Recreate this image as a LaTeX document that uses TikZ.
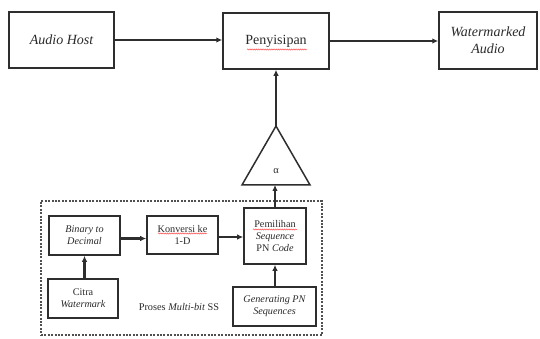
\documentclass[tikz,border=0pt]{standalone}
\usepackage{fontspec}
\setmainfont{Liberation Serif}
\usetikzlibrary{arrows.meta,shapes.geometric,decorations.pathmorphing}
\definecolor{ink}{HTML}{2E2E2E}
\definecolor{txt}{HTML}{2A2A2A}
\definecolor{dashink}{HTML}{505050}
\begin{document}
\begin{tikzpicture}[x=1pt,y=-1pt,
  bigbox/.style={draw=ink, line width=1.5pt, rectangle, inner sep=0pt, text=txt,
    font=\fontsize{14}{17}\selectfont, align=center},
  smallbox/.style={draw=ink, line width=1.6pt, rectangle, inner sep=0pt, text=txt,
    font=\fontsize{10.2}{11.8}\selectfont, align=center},
  conn/.style={draw=ink, line width=2.1pt, -{Latex[length=6pt,width=5.5pt]}},
  spell/.style={red!70, line width=0.5pt, decorate,
    decoration={snake, amplitude=0.6pt, segment length=2.2pt}}]
\useasboundingbox (0,0) rectangle (540,338);

% top row
\node[bigbox, minimum width=105pt, minimum height=56pt] (audio) at (61.5,40) {\itshape Audio Host};
\node[bigbox, minimum width=106pt, minimum height=56pt] (peny) at (276,41) {Penyisipan};
\node[bigbox, minimum width=98pt, minimum height=57pt] (wm) at (488,40.5) {\itshape Watermarked\\\itshape Audio};

% triangle
\node[draw=ink, line width=1.5pt, regular polygon, regular polygon sides=3,
  minimum size=78.5pt, inner sep=0pt, outer sep=0pt] (tri) at (276,165.3) {};
\node[text=txt, font=\fontsize{10.5}{12}\selectfont] (alpha) at (276,171) {α};

% dashed region
\node[draw=dashink, line width=1.5pt, dash pattern=on 2pt off 1.4pt, rectangle,
  minimum width=281pt, minimum height=134pt, inner sep=0pt] (proc) at (181.5,268) {};

% inner boxes
\node[smallbox, minimum width=71pt, minimum height=39pt] (bin) at (84.5,235.5) {\itshape Binary to\\\itshape Decimal};
\node[smallbox, minimum width=70pt, minimum height=39pt] (citra) at (83,298.5) {Citra\\\itshape Watermark};
\node[smallbox, minimum width=71pt, minimum height=38pt] (konv) at (182.5,235) {Konversi ke\\1-D};
\node[smallbox, minimum width=62pt, minimum height=56pt] (pemil) at (275,236) {Pemilihan\\\itshape Sequence\\PN \itshape Code};
\node[smallbox, minimum width=83pt, minimum height=39pt] (gen) at (274.5,306.5) {\itshape Generating PN\\\itshape Sequences};
\node[text=txt, font=\fontsize{10.3}{12}\selectfont] (proses) at (179,307) {Proses \textit{Multi-bit} SS};

% spell-check underlines
\draw[spell] (247,49.5) -- (307,49.5);
\draw[spell] (158,233.5) -- (207,233.5);
\draw[spell] (253,229.5) -- (297,229.5);

% connectors
\draw[conn] (audio.east) -- (peny.west |- audio.east);
\draw[conn] (peny.east) -- (wm.west |- peny.east);
\draw[conn] (tri.corner 1) -- (tri.corner 1 |- peny.south);
\draw[conn] (pemil.north) -- (pemil.north |- tri.side 2);
\draw[conn] (gen.north -| pemil.south) -- (pemil.south);
\draw[conn] (citra.north -| bin.south) -- (bin.south);
\draw[conn] ([yshift=-3pt]bin.east) -- ([yshift=-3pt]bin.east -| konv.west);
\draw[conn] ([yshift=-2pt]konv.east) -- ([yshift=-2pt]konv.east -| pemil.west);
\end{tikzpicture}
\end{document}
